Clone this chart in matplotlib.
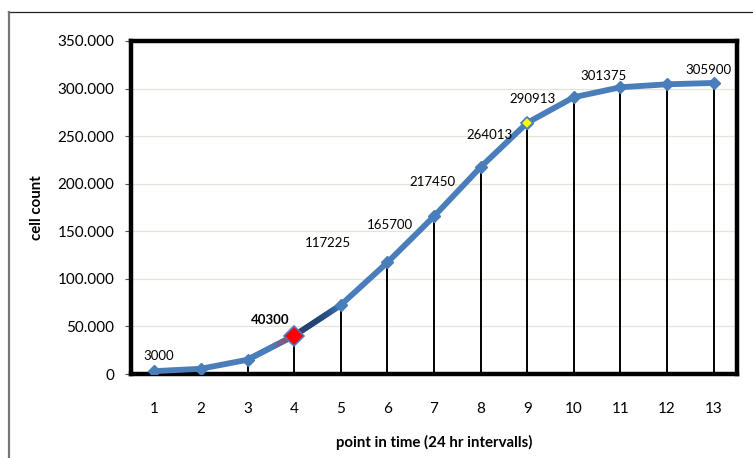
import numpy as np
import matplotlib.pyplot as plt
from matplotlib.collections import LineCollection
from matplotlib.colors import LinearSegmentedColormap
from matplotlib.lines import Line2D

plt.rcParams['font.family'] = ['Lato', 'DejaVu Sans']

# growth curve, one reading every 24 hours
time_points = list(range(1, 14))
cell_counts = [3000, 5500, 15000, 40300, 72500, 117225, 165700,
               217450, 264013, 290913, 301375, 304500, 305900]

# which readings get a value label and where it sits (offset in points)
labelled = {1: (3, 11), 4: (-17, 11), 6: (-43, 14), 7: (-32, -6),
            8: (-35, -11), 9: (-27, -9), 10: (-30, -1), 11: (-12, 8),
            13: (-4, 9)}
bold_label = 4

line_blue = '#4a7ebb'
fig = plt.figure(figsize=(7.53, 4.58), dpi=100)
ax = fig.add_axes([131 / 753, 1 - 374 / 458, 606 / 753, 333 / 458])

# chart border
fig.add_artist(Line2D([8 / 753, 1.0], [1 - 12 / 458, 1 - 12 / 458],
                      transform=fig.transFigure, color='#222222', lw=0.9))
fig.add_artist(Line2D([8.5 / 753, 8.5 / 753], [0, 1 - 12 / 458],
                      transform=fig.transFigure, color='#777777', lw=1.6))

ax.set_xlim(0.5, 13.5)
ax.set_ylim(0, 350000)
ax.set_yticks(np.arange(0, 350001, 50000))
ax.yaxis.set_major_formatter(
    plt.FuncFormatter(lambda v, p: '0' if v == 0 else f'{v / 1000:.0f}.000'))
ax.set_xticks(time_points)
ax.grid(axis='y', color='#e6e4da', lw=0.9)
ax.set_axisbelow(True)
for s in ax.spines.values():
    s.set_linewidth(3.2)
    s.set_color('black')
ax.tick_params(axis='y', length=4, width=0.8, color='#555555', pad=8,
               labelsize=11)
ax.tick_params(axis='x', length=0, pad=20, labelsize=11)

# drop lines down to the axis
ax.vlines(time_points, 0, cell_counts, color='black', lw=1.4, zorder=2)

# main curve
ax.plot(time_points, cell_counts, color=line_blue, lw=4.2, zorder=3,
        solid_capstyle='round')


# shaded pieces of the curve around the highlighted reading
def shaded_segment(i, colours):
    x0, x1 = time_points[i], time_points[i + 1]
    y0, y1 = cell_counts[i], cell_counts[i + 1]
    t = np.linspace(0, 1, 40)
    xs = x0 + (x1 - x0) * t
    ys = y0 + (y1 - y0) * t
    pts = np.column_stack([xs, ys]).reshape(-1, 1, 2)
    segs = np.concatenate([pts[:-1], pts[1:]], axis=1)
    cmap = LinearSegmentedColormap.from_list('seg', colours)
    lc = LineCollection(segs, colors=cmap(t[:-1]), lw=4.2, zorder=4,
                        capstyle='butt')
    ax.add_collection(lc)


shaded_segment(2, [line_blue, line_blue, '#c0304a'])
shaded_segment(3, ['#5a2a5a', '#1f3d6e', '#1f3d6e', '#2a4f88', line_blue])

ax.plot(time_points, cell_counts, ls='none', marker='D', ms=6.5,
        color=line_blue, zorder=5)
ax.plot(time_points[3], cell_counts[3], ls='none', marker='D', ms=10,
        mfc='#ff0000', mec=line_blue, mew=1.2, zorder=6)
ax.plot(time_points[8], cell_counts[8], ls='none', marker='D', ms=6,
        mfc='#ffff00', mec=line_blue, mew=1.2, zorder=6)

for tp, (dx, dy) in labelled.items():
    val = cell_counts[tp - 1]
    ax.annotate(f'{val}', (tp, val), xytext=(dx, dy),
                textcoords='offset points', ha='center', va='center',
                fontsize=9.5,
                fontweight='bold' if tp == bold_label else 'normal',
                zorder=7)

ax.set_xlabel('point in time (24 hr intervalls)', fontsize=10.8,
              fontweight='bold', labelpad=14)
ax.set_ylabel('cell count', fontsize=10.8, fontweight='bold', labelpad=10)

fig.savefig('out.png', dpi=100)
